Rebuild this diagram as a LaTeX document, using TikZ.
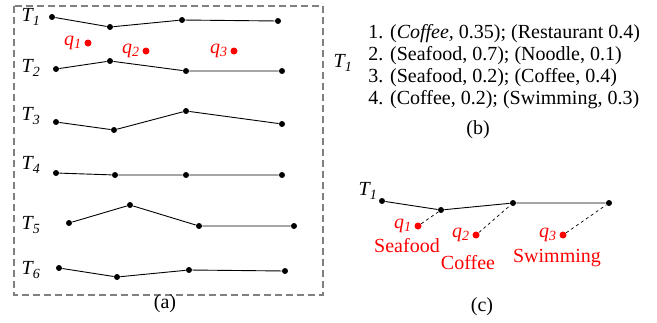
\documentclass[tikz,border=0pt]{standalone}
\usepackage{fontspec}
\setmainfont{Liberation Serif}
\usepackage{xcolor}
\usepackage{tikz}
\usetikzlibrary{positioning}

\tikzset{
  pt/.style={circle, fill=black, inner sep=0pt, minimum size=6pt},
  qpt/.style={circle, fill=red, inner sep=0pt, minimum size=7pt},
  lab/.style={inner sep=0pt, font=\fontsize{20}{22}\selectfont},
  qlab/.style={inner sep=0pt, text=red, font=\fontsize{20}{22}\selectfont},
  link/.style={dashed, line width=0.7pt},
}
\newcommand{\traj}[1]{\textit{T\textsubscript{#1}}}
\newcommand{\qry}[1]{\textit{q\textsubscript{#1}}}

\begin{document}
\begin{tikzpicture}[x=1pt, y=-1pt, line width=0.9pt]
  \useasboundingbox (0,0) rectangle (657,322);
  % (a) the trajectories
  \draw[gray, line width=1.1pt, dash pattern=on 7pt off 4pt] (14,6) rectangle (323,295);
  \node[lab] (l1) at (31,17) {\traj{1}};
  \node[lab] (l2) at (31,68) {\traj{2}};
  \node[lab] (l3) at (31,116) {\traj{3}};
  \node[lab] (l4) at (31,165) {\traj{4}};
  \node[lab] (l5) at (31,225) {\traj{5}};
  \node[lab] (l6) at (31,270) {\traj{6}};

  \node[pt] (t11) at (52,17) {};
  \node[pt] (t12) at (110,27) {};
  \node[pt] (t13) at (182,20) {};
  \node[pt] (t14) at (278,21) {};
  \draw (t11) -- (t12) -- (t13) -- (t14);

  \node[pt] (t21) at (56,69) {};
  \node[pt] (t22) at (110,61) {};
  \node[pt] (t23) at (186,71) {};
  \node[pt] (t24) at (282,71) {};
  \draw (t21) -- (t22) -- (t23) -- (t24);

  \node[pt] (t31) at (56,122) {};
  \node[pt] (t32) at (114,130) {};
  \node[pt] (t33) at (186,111) {};
  \node[pt] (t34) at (282,124) {};
  \draw (t31) -- (t32) -- (t33) -- (t34);

  \node[pt] (t41) at (56,173) {};
  \node[pt] (t42) at (115,175) {};
  \node[pt] (t43) at (186,175) {};
  \node[pt] (t44) at (282,175) {};
  \draw (t41) -- (t42) -- (t43) -- (t44);

  \node[pt] (t51) at (69,223) {};
  \node[pt] (t52) at (130,205) {};
  \node[pt] (t53) at (199,226) {};
  \node[pt] (t54) at (294,226) {};
  \draw (t51) -- (t52) -- (t53) -- (t54);

  \node[pt] (t61) at (59,268) {};
  \node[pt] (t62) at (117,277) {};
  \node[pt] (t63) at (189,270) {};
  \node[pt] (t64) at (285,271) {};
  \draw (t61) -- (t62) -- (t63) -- (t64);

  \node[qpt] (q1) at (88,43) {};
  \node[qpt] (q2) at (146,51) {};
  \node[qpt] (q3) at (234,51) {};
  \node[qlab, left=2pt of q1] {\qry{1}};
  \node[qlab, left=2pt of q2] {\qry{2}};
  \node[qlab, left=2pt of q3] {\qry{3}};
  \node[lab] (capa) at (165,304) {(a)};

  % (b) activities of T1
  \node[lab] (bt) at (343,63) {\traj{1}};
  \node[lab, anchor=west] (b1) at (368,34) {1. (\textit{Coffee,} 0.35); (Restaurant 0.4)};
  \node[lab, anchor=west] (b2) at (368,56) {2. (Seafood, 0.7); (Noodle, 0.1)};
  \node[lab, anchor=west] (b3) at (368,78) {3. (Seafood, 0.2); (Coffee, 0.4)};
  \node[lab, anchor=west] (b4) at (368,100) {4. (Coffee, 0.2); (Swimming, 0.3)};
  \node[lab] (capb) at (478,130) {(b)};

  % (c) matching queries to T1
  \node[lab] (cl) at (368,191) {\traj{1}};
  \node[pt] (c1) at (382,201) {};
  \node[pt] (c2) at (441,210) {};
  \node[pt] (c3) at (513,203) {};
  \node[pt] (c4) at (609,203) {};
  \draw (c1) -- (c2) -- (c3) -- (c4);

  \node[qpt] (cq1) at (418,226) {};
  \node[qpt] (cq2) at (476,235) {};
  \node[qpt] (cq3) at (563,235) {};
  \node[qlab, left=2pt of cq1] {\qry{1}};
  \node[qlab, left=2pt of cq2] {\qry{2}};
  \node[qlab, left=2pt of cq3] {\qry{3}};
  \draw[link] (cq1) -- (c2);
  \draw[link] (cq2) -- (c3);
  \draw[link] (cq3) -- (c4);
  \node[qlab] (a1) at (407,246) {Seafood};
  \node[qlab] (a2) at (468,263) {Coffee};
  \node[qlab] (a3) at (557,258) {Swimming};
  \node[lab] (capc) at (482,307) {(c)};
\end{tikzpicture}
\end{document}
